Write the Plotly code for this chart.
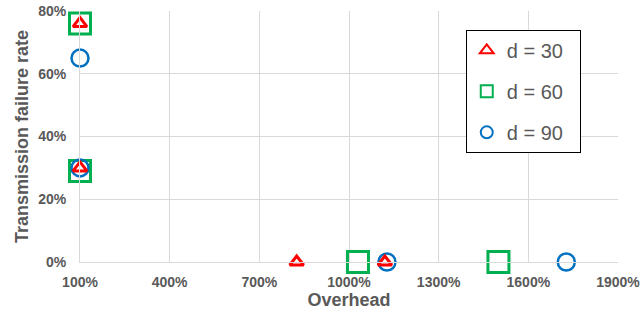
import plotly.graph_objects as go

# Data (overhead as multiples: 1.0 = 100%)
d30_x = [1.0, 1.0, 8.25, 11.2]
d30_y = [0.76, 0.30, 0.0, 0.0]
d60_x = [1.0, 1.0, 10.3, 15.0]
d60_y = [0.76, 0.29, 0.0, 0.0]
d90_x = [1.0, 1.0, 11.27, 17.27]
d90_y = [0.65, 0.30, 0.0, 0.0]
names = ["d = 30", "d = 60", "d = 90"]

gray = "#595959"
fnt = "Liberation Sans, Arial, sans-serif"
pad = "\u00a0\u00a0"
fig = go.Figure()
fig.add_trace(go.Scatter(x=d60_x, y=d60_y, mode="markers", name=names[1] + pad, legendgroup="b", legendrank=2,
                         marker=dict(symbol="square-open", size=21, color="#00B050", line=dict(width=3, color="#00B050"))))
fig.add_trace(go.Scatter(x=d90_x, y=d90_y, mode="markers", name=names[2] + pad, legendgroup="c", legendrank=3,
                         marker=dict(symbol="circle-open", size=17, color="#0070C0", line=dict(width=2.5, color="#0070C0"))))
fig.add_trace(go.Scatter(x=d30_x, y=d30_y, mode="markers", name=names[0] + pad, legendgroup="a", legendrank=1,
                         marker=dict(symbol="triangle-up-open", size=12, color="#FF0000", line=dict(width=3, color="#FF0000"))))
fig.update_traces(cliponaxis=False)

fig.update_layout(
    width=641, height=313,
    margin=dict(l=80, r=23, t=11, b=51),
    paper_bgcolor="white", plot_bgcolor="white",
    font=dict(family=fnt, color=gray),
    legend=dict(x=0.717, y=0.925, xanchor="left", yanchor="top", bordercolor="black", borderwidth=1,
                bgcolor="white", font=dict(size=20, color=gray, family=fnt), itemsizing="constant",
                traceorder="grouped", tracegroupgap=12),
    xaxis=dict(range=[1, 19], tick0=1, dtick=3, tickformat=".0%", showgrid=True, gridcolor="#D9D9D9",
               showline=True, linecolor="#D9D9D9", zeroline=False, ticks="outside", ticklen=7,
               tickcolor="rgba(0,0,0,0)", automargin=False,
               tickfont=dict(size=14, color=gray, family=fnt),
               title=dict(text="<b>Overhead</b>", font=dict(size=18, color=gray, family=fnt), standoff=2)),
    yaxis=dict(range=[0, 0.8], dtick=0.2, tickformat=".0%", showgrid=True, gridcolor="#D9D9D9",
               showline=True, linecolor="#D9D9D9", zeroline=False, ticks="outside", ticklen=10,
               tickcolor="rgba(0,0,0,0)", automargin=False,
               tickfont=dict(size=14, color=gray, family=fnt),
               title=dict(text="<b>Transmission failure rate</b>", font=dict(size=18, color=gray, family=fnt), standoff=4)),
)
fig.update_xaxes(tickprefix="<b>", ticksuffix="</b>")
fig.update_yaxes(tickprefix="<b>", ticksuffix="</b>")
fig.write_html("out.html", config={"displayModeBar": False},
               post_script="document.body.style.margin='0px';")
